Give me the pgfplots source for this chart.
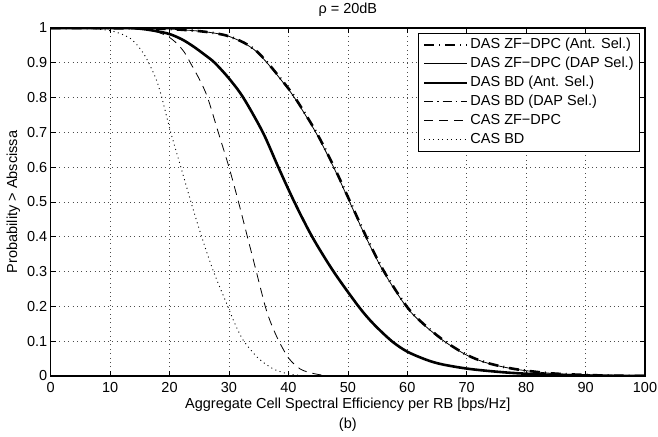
\documentclass[border=0pt]{standalone}
\usepackage{fontspec}
\setmainfont{Liberation Sans}
\usepackage{pgfplots}
\pgfplotsset{compat=1.18}
\newcommand\fs{\fontsize{14.5}{19}\selectfont}
\begin{document}
\begin{tikzpicture}
\begin{axis}[
  at={(0pt,0pt)}, anchor=south west,
  scale only axis, width=594.3pt, height=348pt,
  xmin=0, xmax=100, ymin=0, ymax=1,
  xtick={0,10,20,30,40,50,60,70,80,90,100},
  ytick={0,0.1,0.2,0.3,0.4,0.5,0.6,0.7,0.8,0.9,1},
  yticklabels={0,0.1,0.2,0.3,0.4,0.5,0.6,0.7,0.8,0.9,1},
  /pgf/number format/assume math mode=true,
  tick label style={font=\fs},
  xticklabel style={yshift=-3pt},
  tick align=inside, major tick length=5pt,
  tick style={black, line width=0.6pt},
  axis line style={black, line width=1.1pt},
  grid=major,
  major grid style={black!70, line width=0.6pt, dash pattern=on 0.8pt off 3.6pt},
  title={ρ = 20dB},
  title style={font=\fs, yshift=2pt},
  xlabel={Aggregate Cell Spectral Efficiency per RB [bps/Hz]\\[1pt](b)},
  xlabel style={font=\fs, align=center, yshift=2pt},
  ylabel={Probability > Abscissa},
  ylabel style={font=\fs},
  legend cell align=left,
  legend style={at={(1,1)}, anchor=north east, xshift=-5pt, yshift=-5pt,
    font=\fs, draw=black, line width=0.8pt, fill=white,
    row sep=0pt, inner xsep=4pt, inner ysep=2pt,
    nodes={text height=11pt, text depth=3.5pt, inner ysep=2.25pt}},
  legend image code/.code={\draw[#1] (0pt,0pt) -- (43pt,0pt);},
]
% DAS ZF-DPC (Ant. Sel.)
\addplot[black, line width=2.6pt, dash pattern=on 10pt off 5pt on 1pt off 5pt, smooth, tension=0.5] coordinates {
(0,1) (15,0.999) (20,0.997) (25,0.991) (28,0.984) (30,0.976) (32.5,0.958) (34.6,0.934) (36.5,0.9) (38.9,0.85) (41.1,0.8) (44.7,0.7) (47.7,0.6) (50.4,0.5) (53.1,0.4) (56.1,0.3) (59.9,0.2) (62.7,0.15) (66.3,0.1) (70.1,0.06) (73.6,0.037) (78.1,0.02) (84,0.008) (90,0.003) (95,0.001) (100,0)
};
\addlegendentry{DAS ZF−DPC (Ant. Sel.)}
% DAS ZF-DPC (DAP Sel.)
\addplot[black, line width=0.8pt, smooth, tension=0.5] coordinates {
(0,1) (15,0.999) (20,0.997) (25,0.991) (28,0.984) (30,0.976) (32.4,0.958) (34.5,0.934) (36.4,0.9) (38.8,0.85) (41.0,0.8) (44.6,0.7) (47.6,0.6) (50.3,0.5) (53.0,0.4) (56.0,0.3) (59.8,0.2) (62.6,0.15) (66.2,0.1) (70,0.06) (73.5,0.037) (78,0.02) (84,0.008) (90,0.003) (95,0.001) (100,0)
};
\addlegendentry{DAS ZF−DPC (DAP Sel.)}
% DAS BD (Ant. Sel.)
\addplot[black, line width=2.6pt, smooth, tension=0.5] coordinates {
(0,1) (10,1) (15,0.998) (19.5,0.985) (22,0.968) (24,0.947) (26,0.922) (27.6,0.9) (30,0.855) (32.4,0.8) (35.7,0.7) (38.3,0.6) (41.0,0.5) (44.0,0.4) (47.6,0.3) (51.8,0.2) (54.3,0.15) (57.4,0.1) (60,0.07) (63.3,0.046) (66,0.033) (70.6,0.02) (76.7,0.01) (82,0.005) (88,0.002) (95,0.0005) (100,0)
};
\addlegendentry{DAS BD (Ant. Sel.)}
% DAS BD (DAP Sel.)
\addplot[black, line width=0.8pt, dash pattern=on 9pt off 4pt on 1.5pt off 4pt, smooth, tension=0.5] coordinates {
(0,1) (10,1) (15,0.998) (19.6,0.985) (22.1,0.968) (24.1,0.947) (26.1,0.922) (27.7,0.9) (30.1,0.855) (32.5,0.8) (35.8,0.7) (38.4,0.6) (41.1,0.5) (44.1,0.4) (47.7,0.3) (51.9,0.2) (54.4,0.15) (57.5,0.1) (60.1,0.07) (63.4,0.046) (66.1,0.033) (70.7,0.02) (76.8,0.01) (82,0.005) (88,0.002) (95,0.0005) (100,0)
};
\addlegendentry{DAS BD (DAP Sel.)}
% CAS ZF-DPC
\addplot[black, line width=0.8pt, dash pattern=on 9pt off 6pt, smooth, tension=0.5] coordinates {
(0,1) (12,1) (15,0.998) (17,0.993) (19.5,0.978) (21.2,0.956) (22.5,0.93) (23.5,0.9) (25.1,0.85) (26.4,0.8) (28.2,0.7) (30.0,0.6) (31.6,0.5) (33.1,0.4) (34.6,0.3) (36.1,0.2) (37.1,0.15) (38.4,0.1) (40.1,0.05) (42.0,0.02) (44,0.008) (46,0.002) (48,0) (100,0)
};
\addlegendentry{CAS ZF−DPC}
% CAS BD
\addplot[black, line width=0.9pt, dash pattern=on 1pt off 3.5pt, smooth, tension=0.5] coordinates {
(0,1) (6,0.999) (9,0.995) (10.6,0.99) (12,0.982) (13.4,0.97) (14.6,0.95) (15.6,0.927) (16.5,0.9) (17.8,0.85) (18.7,0.8) (20.2,0.7) (21.9,0.6) (23.6,0.5) (25.4,0.4) (27.4,0.3) (29.8,0.2) (31.0,0.15) (32.5,0.1) (35.0,0.05) (37.5,0.02) (40,0.006) (42.5,0.001) (45,0) (100,0)
};
\addlegendentry{CAS BD}
\end{axis}
\pgfresetboundingbox
\path (-50.7pt,-60pt) rectangle (607.3pt,376pt);
\end{tikzpicture}
\end{document}
